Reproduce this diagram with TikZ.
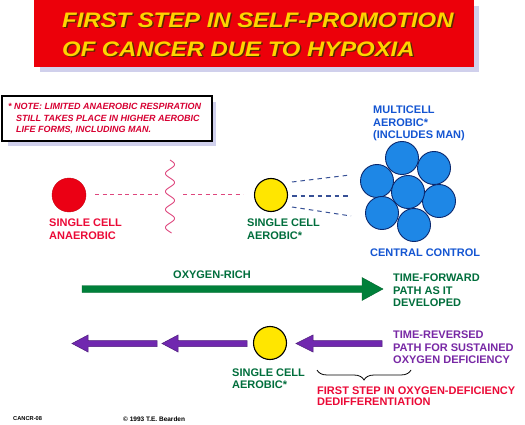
\documentclass[tikz,border=0pt]{standalone}
\usepackage{fontspec}
\setmainfont{Liberation Sans}
\usetikzlibrary{decorations.pathreplacing,calc}
\definecolor{bannerred}{RGB}{236,0,10}
\definecolor{titleyellow}{RGB}{255,212,0}
\definecolor{titleshadow}{RGB}{90,40,0}
\definecolor{shadowlav}{RGB}{208,208,236}
\definecolor{notered}{RGB}{215,0,50}
\definecolor{cellred}{RGB}{235,0,20}
\definecolor{textred}{RGB}{235,10,55}
\definecolor{tgreen}{RGB}{0,110,60}
\definecolor{agreen}{RGB}{0,128,58}
\definecolor{tblue}{RGB}{20,85,210}
\definecolor{cblue}{RGB}{30,135,230}
\definecolor{cbluedark}{RGB}{10,40,110}
\definecolor{apurple}{RGB}{112,40,175}
\definecolor{tpurple}{RGB}{120,40,165}
\definecolor{cellyellow}{RGB}{255,230,0}
\definecolor{dashred}{RGB}{222,70,125}
\definecolor{dashblue}{RGB}{55,80,150}
\begin{document}
\begin{tikzpicture}[x=1pt,y=-1pt,
  txt/.style={inner sep=0pt, anchor=north west, align=left,
    font=\bfseries\fontsize{11}{12.3}\selectfont},
  titletxt/.style={inner sep=0pt, anchor=north west,
    font=\bfseries\itshape\fontsize{21}{21}\selectfont},
  yellowcell/.style={circle, draw=black, line width=1.1pt, fill=cellyellow,
    minimum size=33pt, inner sep=0pt},
  bluecell/.style={circle, draw=cbluedark, line width=0.9pt, fill=cblue,
    minimum size=33pt, inner sep=0pt},
  reddash/.style={draw=dashred, line width=1pt, dash pattern=on 4pt off 3.5pt},
  bluedash/.style={draw=dashblue, line width=1pt, dash pattern=on 4.5pt off 4pt}]
\useasboundingbox (0,0) rectangle (525,425);
\fill[white] (0,0) rectangle (525,425);

% title banner
\fill[shadowlav] (40,6) rectangle (479,72);
\fill[bannerred] (34,0) rectangle (474,67);
\node[titletxt, text=titleshadow] at (63.5,14) {\scalebox{1.137}[1]{FIRST STEP IN SELF-PROMOTION}};
\node[titletxt, text=titleyellow] (title1) at (62,12.5) {\scalebox{1.137}[1]{FIRST STEP IN SELF-PROMOTION}};
\node[titletxt, text=titleshadow] at (63.5,43) {\scalebox{1.137}[1]{OF CANCER DUE TO HYPOXIA}};
\node[titletxt, text=titleyellow] (title2) at (62,41.5) {\scalebox{1.137}[1]{OF CANCER DUE TO HYPOXIA}};

% note box
\fill[shadowlav] (8,102) rectangle (216,146);
\draw[fill=white, line width=1.3pt] (2,96) rectangle (212,141);
\node[inner sep=0pt, anchor=north west, align=left, text=notered,
  font=\bfseries\itshape\fontsize{9}{11.5}\selectfont] (note) at (8,103.5)
  {* NOTE: LIMITED ANAEROBIC RESPIRATION\\
   \hspace*{8pt}STILL TAKES PLACE IN HIGHER AEROBIC\\
   \hspace*{8pt}LIFE FORMS, INCLUDING MAN.};

% upper row
\node[circle, fill=cellred, draw=cellred!85!black, line width=0.4pt,
  minimum size=34pt, inner sep=0pt] (rc) at (69,195) {};
\node[yellowcell] (yc) at (271,195) {};
\coordinate (r1) at (95,195);
\coordinate (r2) at (158,195);
\coordinate (r3) at (183,195);
\coordinate (r4) at (243,195);
\draw[reddash] (r1) -- (r2);
\draw[reddash] (r3) -- (r4);
\draw[dashred, line width=0.9pt] plot[domain=0:73, samples=150, smooth]
  ({170+4.5*sin(\x*20)}, {160+\x});

% cluster
\node[bluecell] (b1) at (402,158) {};
\node[bluecell] (b2) at (434,168) {};
\node[bluecell] (b3) at (377,181) {};
\node[bluecell] (b5) at (439,201) {};
\node[bluecell] (b6) at (382,213) {};
\node[bluecell] (b7) at (414,225) {};
\node[bluecell] (b4) at (408,192) {};

\coordinate (s1) at (292,182);
\coordinate (s2) at (292,196);
\coordinate (s3) at (292,207);
\coordinate (e1) at (350,175);
\coordinate (e2) at (351,196);
\coordinate (e3) at (351,216);
\draw[bluedash] (s1) -- (e1);
\draw[bluedash] (s2) -- (e2);
\draw[bluedash] (s3) -- (e3);

\node[txt, text=textred] (lanaer) at (49,219) {SINGLE CELL\\ANAEROBIC};
\node[txt, text=tgreen] (laer) at (247,219) {SINGLE CELL\\AEROBIC*};
\node[txt, text=tblue, font=\bfseries\fontsize{11}{12.5}\selectfont] (lmulti) at (373,106)
  {MULTICELL\\AEROBIC*\\(INCLUDES MAN)};
\node[txt, text=tblue] (lcentral) at (370,249) {CENTRAL CONTROL};

% green arrow
\fill[agreen, draw=agreen!80!black, line width=0.4pt]
  (82,285.5) -- (362,285.5) -- (362,277.5) -- (383,289) -- (362,300.5) -- (362,292.5) -- (82,292.5) -- cycle;
\node[txt, text=tgreen, anchor=north] (lrich) at (212,271) {OXYGEN-RICH};
\node[txt, text=tgreen] (lforward) at (393,274) {TIME-FORWARD\\PATH AS IT\\DEVELOPED};

% purple arrows
\foreach \s/\b/\t in {382/313/296, 247/178/162, 157/88/72}{
  \fill[apurple, draw=apurple!70!black, line width=0.5pt]
    (\s,340.5) -- (\b,340.5) -- (\b,335) -- (\t,343.5) -- (\b,352) -- (\b,346.5) -- (\s,346.5) -- cycle;
}
\node[yellowcell] (yc2) at (270,343) {};
\node[txt, text=tgreen, font=\bfseries\fontsize{11}{12.5}\selectfont] (laer2) at (232,368.5) {SINGLE CELL\\AEROBIC*};
\node[txt, text=tpurple] (lrev) at (393,331) {TIME-REVERSED\\PATH FOR SUSTAINED\\OXYGEN DEFICIENCY};

% brace
\coordinate (br1) at (411,370);
\coordinate (br2) at (317,370);
\draw[line width=0.8pt, decorate, decoration={brace, amplitude=10pt}] (br1) -- (br2);
\node[txt, text=textred, font=\bfseries\fontsize{11}{10.6}\selectfont] (lfirst) at (317,386.8)
  {FIRST STEP IN OXYGEN-DEFICIENCY\\DEDIFFERENTIATION};

% footer
\node[txt, font=\bfseries\fontsize{5.7}{6}\selectfont, anchor=west] (code) at (13,419) {CANCR-08};
\node[txt, font=\bfseries\fontsize{6.5}{7}\selectfont, anchor=west] (copy) at (123,419) {\textcopyright\ 1993 T.E. Bearden};
\end{tikzpicture}
\end{document}
